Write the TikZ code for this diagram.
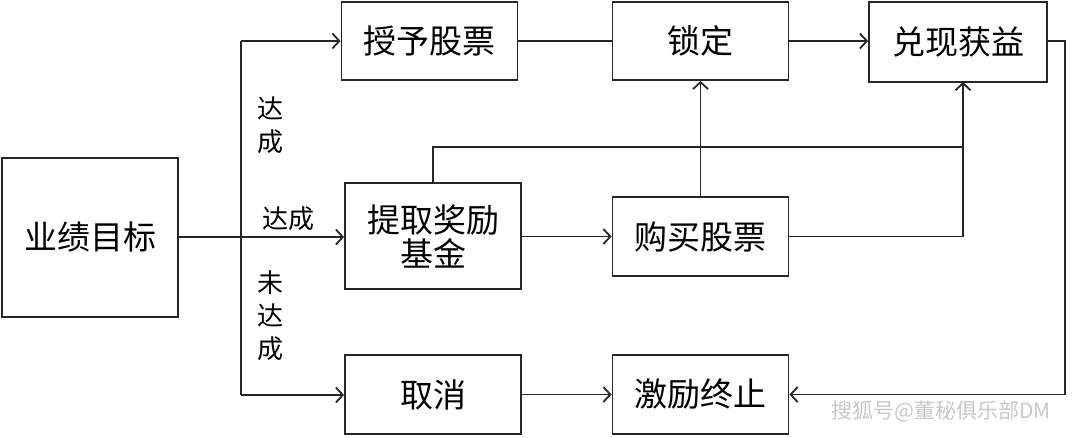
\documentclass[tikz,border=0pt]{standalone}
\usepackage{fontspec}
\setmainfont{Noto Sans CJK SC}
\usetikzlibrary{arrows.meta}
\begin{document}
\begin{tikzpicture}[x=1pt,y=-1pt,
  box/.style={draw=black!85,line width=1.8pt,minimum width=176pt,minimum height=78pt,inner sep=0pt,align=center,font=\fontsize{33}{38}\selectfont},
  conn/.style={draw=black!85,line width=1.8pt},
  arr/.style={conn,-{Straight Barb[length=7pt,width=15pt,line width=1.8pt]}},
  lbl/.style={font=\fontsize{26}{33}\selectfont,inner sep=0pt,align=center}]
\useasboundingbox (0,0) rectangle (1080,437);
\node[box,minimum height=159pt] (goal) at (90,237.5) {业绩目标};
\node[box] (grant) at (429.5,41) {授予股票};
\node[box] (lock) at (700.5,41) {锁定};
\node[box,minimum height=80pt,minimum width=178pt] (cash) at (958,42) {兑现获益};
\node[box,minimum height=106pt] (fund) at (433,236) {提取奖励\\[-4pt]基金};
\node[box,minimum height=79pt] (buy) at (700.5,236.5) {购买股票};
\node[box,minimum height=79pt] (cancel) at (433,394.5) {取消};
\node[box,minimum height=79pt] (stop) at (700.5,394.5) {激励终止};
\coordinate (tr) at (241,237);
\coordinate (ttop) at (241,41);
\coordinate (tbot) at (241,395);
\coordinate (cb) at (963,82);
\coordinate (rr) at (1065,41);
\draw[conn] (goal.east |- tr) -- (tr);
\draw[conn] (ttop) -- (tbot);
\draw[arr] (ttop) -- (grant.west |- ttop);
\draw[arr] (tr) -- (fund.west |- tr);
\draw[arr] (tbot) -- (cancel.west |- tbot);
\draw[conn] (grant.east) -- (lock.west);
\draw[arr] (lock.east) -- (cash.west |- lock.east);
\draw[arr] (fund.east |- buy.west) -- (buy.west);
\draw[arr] (buy.north) -- (lock.south);
\draw[conn] (fund.north) -- ++(0,-35) -| (cb);
\draw[arr] (buy.east) -| (cb);
\draw[arr] (cancel.east) -- (stop.west);
\draw[arr] (cash.east |- rr) -- (rr) |- (stop.east);
\node[lbl] (l1) at (270,125) {达\\成};
\node[lbl] (l2) at (288,219) {达成};
\node[lbl] (l3) at (270,316) {未\\达\\成};
\node[font=\fontsize{21}{22}\selectfont,text=black!22,inner sep=0pt] (wm) at (941,411) {搜狐号@董秘俱乐部DM};
\end{tikzpicture}
\end{document}
